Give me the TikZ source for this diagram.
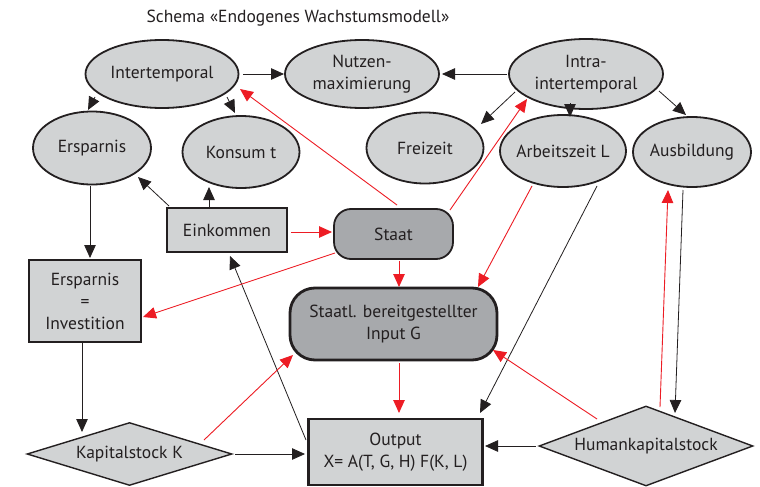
\documentclass[tikz,border=0pt]{standalone}
\usepackage{fontspec}
\setmainfont{PT Sans}
\usetikzlibrary{shapes.geometric,arrows.meta,calc}
\definecolor{lgray}{HTML}{D1D3D4}
\definecolor{dgray}{HTML}{A7A9AC}
\definecolor{edgec}{HTML}{231F20}
\definecolor{myred}{HTML}{ED1C24}
\begin{document}
\begin{tikzpicture}[x=1pt,y=-1pt,
  font=\fontsize{17.5}{22}\selectfont,
  ell/.style={ellipse, draw=edgec, line width=1.8pt, fill=lgray, inner xsep=-10pt, inner ysep=-6pt, align=center, text=edgec},
  box/.style={rectangle, draw=edgec, fill=lgray, line width=1.8pt, inner sep=0pt, align=center, text=edgec},
  thickbox/.style={box, line width=2.8pt},
  dia/.style={diamond, draw=edgec, fill=lgray, line width=1.4pt, inner sep=0pt, text=edgec},
  arr/.style={draw=edgec, line width=0.8pt, -{Triangle[length=13pt,width=11.5pt]}},
  rarr/.style={draw=myred, line width=0.9pt, -{Triangle[length=13pt,width=11.5pt]}}
]
\useasboundingbox (0,0) rectangle (760,487);
\fill[white] (0,0) rectangle (760,487);

\node[text=edgec] (title) at (298,18) {Schema «Endogenes Wachstumsmodell»};

\node[ell, minimum width=153pt, minimum height=68pt] (inter) at (162,74) {Intertemporal};
\node[ell, minimum width=154pt, minimum height=68pt] (nutz) at (362,74) {Nutzen-\\maximierung};
\node[ell, minimum width=154pt, minimum height=70pt] (intra) at (586,74) {Intra-\\intertemporal};
\node[ell, minimum width=118pt, minimum height=73pt] (ersp) at (92,148) {Ersparnis};
\node[ell, minimum width=117pt, minimum height=72pt] (konsum) at (241,152) {Konsum t};
\node[ell, minimum width=117pt, minimum height=71pt] (frei) at (425,148) {Freizeit};
\node[ell, minimum width=126pt, minimum height=72pt] (arb) at (563,151) {Arbeitszeit L};
\node[ell, minimum width=118pt, minimum height=70pt] (aus) at (692,152) {Ausbildung};

\node[box, minimum width=120pt, minimum height=44pt] (ein) at (227,230) {Einkommen};
\node[box, fill=dgray, rounded corners=17pt, minimum width=119pt, minimum height=50pt] (staat) at (393.5,234) {Staat};
\node[thickbox, minimum width=112pt, minimum height=82pt] (ei) at (85,301) {Ersparnis\\=\\Investition};
\node[thickbox, fill=dgray, rounded corners=25pt, minimum width=207pt, minimum height=72pt] (staatl) at (393.5,324) {Staatl. bereitgestellter\\Input G};
\node[dia, aspect=3.25, minimum width=205pt, minimum height=63pt] (kap) at (129.5,454) {Kapitalstock K};
\node[thickbox, minimum width=174pt, minimum height=66pt] (out) at (395.5,452) {Output\\X= A(T, G, H) F(K, L)};
\node[dia, aspect=2.675, minimum width=214pt, minimum height=80pt] (hum) at (646,446) {Humankapitalstock};

% black connectors
\draw[arr] ($(inter)+(81,0)$) -- ($(nutz)+(-78,0)$);
\draw[arr] ($(intra)+(-79,0)$) -- ($(nutz)+(80,0)$);
\draw[arr] ($(inter)+(-67,23)$) -- ($(ersp)+(-4,-38)$);
\draw[arr] ($(inter)+(65,23)$) -- ($(konsum)+(-6,-39)$);
\draw[arr] ($(intra)+(-71,18)$) -- ($(frei)+(56,-24)$);
\draw[arr] ($(intra)+(-16,29)$) -- ($(arb)+(7,-34)$);
\draw[arr] ($(intra)+(73,17)$) -- ($(aus)+(-6,-37)$);
\draw[arr] ($(ein)+(-58,-24)$) -- ($(ersp)+(46,29)$);
\draw[arr] ($(ein)+(-18,-23)$) -- ($(konsum)+(-32,35)$);
\draw[arr] ($(ersp)+(-2,38)$) -- ($(ei)+(5,-43)$);
\draw[arr] ($(ei)+(-3,42)$) -- ($(kap)+(-47.5,-22)$);
\draw[arr] ($(kap)+(105.5,0)$) -- ($(out)+(-90.5,2)$);
\draw[arr] ($(out)+(-89.5,-12)$) -- ($(ein)+(3,26)$);
\draw[arr] ($(arb)+(34,35)$) -- ($(out)+(84.5,-39)$);
\draw[arr] ($(hum)+(-110,0)$) -- ($(out)+(89.5,-6)$);
\draw[arr] ($(aus)+(-9,38)$) -- ($(hum)+(29,-33)$);

% red connectors
\draw[rarr] ($(ein)+(64,2)$) -- ($(staat)+(-61.5,-2)$);
\draw[rarr] ($(kap)+(74.5,-14)$) -- ($(staatl)+(-100.5,31)$);
\draw[rarr] ($(staat)+(3.5,-29)$) -- ($(inter)+(78,15)$);
\draw[rarr] ($(staat)+(56.5,-24)$) -- ($(intra)+(-59,25)$);
\draw[rarr] ($(staat)+(-58.5,19)$) -- ($(ei)+(58,16)$);
\draw[rarr] ($(staat)+(5.5,27)$) -- ($(staatl)+(5.5,-37)$);
\draw[rarr] ($(arb)+(-31,35)$) -- ($(staatl)+(84.5,-37)$);
\draw[rarr] ($(staatl)+(5.5,39)$) -- ($(out)+(3.5,-39)$);
\draw[rarr] ($(hum)+(-49,-27)$) -- ($(staatl)+(99.5,26)$);
\draw[rarr] ($(hum)+(14,-39)$) -- ($(aus)+(-24,38)$);
\end{tikzpicture}
\end{document}
